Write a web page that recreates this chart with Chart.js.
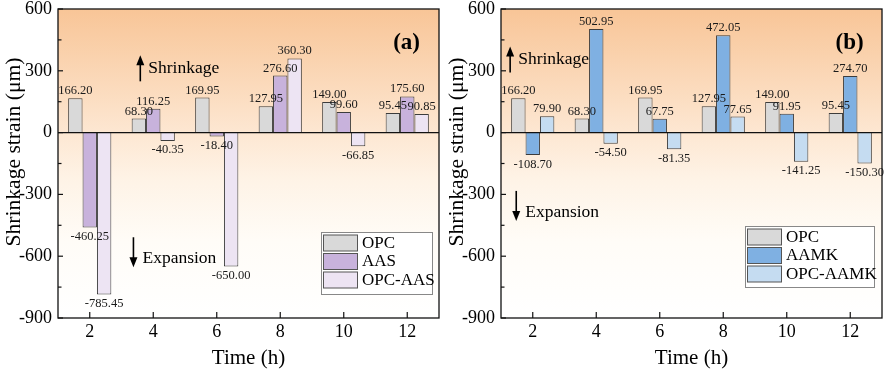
<!DOCTYPE html>
<html><head><meta charset="utf-8">
<script src="https://cdn.jsdelivr.net/npm/chart.js@4"></script>
<style>
html,body{margin:0;padding:0;background:#fff;width:886px;height:371px;overflow:hidden}
canvas{position:absolute;top:0}
#ca{left:0}#cb{left:443px}
</style></head><body>
<canvas id="ca" width="443" height="371"></canvas>
<canvas id="cb" width="443" height="371"></canvas>
<script>
// ---- data ----
const timeLabels = ['2','4','6','8','10','12'];
const yTickValues = [600, 300, 0, -300, -600, -900];
const opc     = [166.20, 68.30, 169.95, 127.95, 149.00, 95.45];
const aas     = [-460.25, 116.25, -18.40, 276.60, 99.60, 175.60];
const opcAas  = [-785.45, -40.35, -650.00, 360.30, -66.85, 90.85];
const aamk    = [-108.70, 502.95, 67.75, 472.05, 91.95, 274.70];
const opcAamk = [79.90, -54.50, -81.35, 77.65, -141.25, -150.30];

const SERIF = '"Liberation Serif","DejaVu Serif",serif';
const YMIN = -900, YMAX = 600;

function decor(opts){
  return {
    id:'decor',
    beforeDraw(chart){
      const {ctx, chartArea:a} = chart;
      const g = ctx.createLinearGradient(0,a.top,0,a.bottom);
      g.addColorStop(0,'#f8c597');
      g.addColorStop(0.40,'#fde7d2');
      g.addColorStop(0.55,'#fef3e6');
      g.addColorStop(0.75,'#fffcf7');
      g.addColorStop(1,'#ffffff');
      ctx.save(); ctx.fillStyle=g; ctx.fillRect(a.left,a.top,a.right-a.left,a.bottom-a.top); ctx.restore();
    },
    afterDatasetsDraw(chart){
      const {ctx, chartArea:a, scales} = chart;
      const ys = scales.y, xs = scales.x;
      ctx.save();
      // zero line
      const y0 = ys.getPixelForValue(0);
      ctx.strokeStyle='#111'; ctx.lineWidth=1.2;
      ctx.beginPath(); ctx.moveTo(a.left,y0); ctx.lineTo(a.right,y0); ctx.stroke();
      // data labels
      ctx.font = '12.5px '+SERIF; ctx.fillStyle='#1a1a1a'; ctx.textAlign='center';
      chart.data.datasets.forEach((ds,i)=>{
        chart.getDatasetMeta(i).data.forEach((el,j)=>{
          const v = ds.data[j];
          const t = v.toFixed(2);
          if (v>=0){ ctx.textBaseline='bottom'; ctx.fillText(t, el.x, el.y-1); }
          else { ctx.textBaseline='top'; ctx.fillText(t, el.x, el.y+3); }
        });
      });
      // box
      ctx.strokeStyle='#111'; ctx.lineWidth=1.3;
      ctx.strokeRect(a.left,a.top,a.right-a.left,a.bottom-a.top);
      // y ticks (inward), major + minor
      ctx.lineWidth=1.2;
      for(let v=YMIN; v<=YMAX; v+=150){
        const p = ys.getPixelForValue(v);
        const len = (v%300===0)?5:3.5;
        ctx.beginPath(); ctx.moveTo(a.left,p); ctx.lineTo(a.left+len,p); ctx.stroke();
      }
      // x ticks (inward)
      timeLabels.forEach((l,i)=>{
        const p = xs.getPixelForValue(i);
        ctx.beginPath(); ctx.moveTo(p,a.bottom); ctx.lineTo(p,a.bottom-6); ctx.stroke();
      });
      // panel label
      ctx.fillStyle='#000'; ctx.font='bold 23px '+SERIF; ctx.textAlign='center'; ctx.textBaseline='middle';
      ctx.fillText(opts.panel, a.left + (a.right-a.left)*opts.panelX, ys.getPixelForValue(opts.panelY));
      // arrows
      function arrow(x, y1, y2){ // from y1 to y2 (head at y2)
        ctx.strokeStyle='#000'; ctx.fillStyle='#000'; ctx.lineWidth=1.6;
        const dir = Math.sign(y2-y1);
        ctx.beginPath(); ctx.moveTo(x,y1); ctx.lineTo(x,y2-dir*8); ctx.stroke();
        ctx.beginPath(); ctx.moveTo(x,y2); ctx.lineTo(x-4,y2-dir*10); ctx.lineTo(x+4,y2-dir*10); ctx.closePath(); ctx.fill();
      }
      ctx.font='17.5px '+SERIF; ctx.textAlign='left'; ctx.textBaseline='middle';
      let sx = a.left + (a.right-a.left)*opts.shrinkX, sy = ys.getPixelForValue(opts.shrinkY);
      arrow(sx, sy+13, sy-13);
      ctx.fillText('Shrinkage', sx+8, sy);
      let ex = a.left + (a.right-a.left)*opts.expX, ey = ys.getPixelForValue(opts.expY);
      arrow(ex, ey-21, ey+9);
      ctx.fillText('Expansion', ex+9, ey);
      // legend box
      const L = opts.legend;
      ctx.fillStyle='#fff'; ctx.fillRect(L.x,L.y,L.w,L.h);
      ctx.strokeStyle='#888'; ctx.lineWidth=1; ctx.strokeRect(L.x+0.5,L.y+0.5,L.w,L.h);
      ctx.font='17px '+SERIF; ctx.textBaseline='middle';
      chart.data.datasets.forEach((ds,i)=>{
        const ry = L.y+3+i*18.5;
        ctx.fillStyle=ds.backgroundColor; ctx.fillRect(L.x+2.5,ry,34,16);
        ctx.strokeStyle='#555'; ctx.strokeRect(L.x+2.5,ry,34,16);
        ctx.fillStyle='#000'; ctx.fillText(ds.label, L.x+41, ry+8.5);
      });
      // axis titles
      ctx.font='21px '+SERIF; ctx.textAlign='center';
      ctx.fillText('Time (h)', (a.left+a.right)/2, 358);
      const title = 'Shrinkage strain (\u03bcm)';
      ctx.save(); ctx.translate(14,152); ctx.rotate(-Math.PI/2);
      const w = ctx.measureText(title).width;
      ctx.scale(189/w, 1);
      ctx.fillText(title,0,0); ctx.restore();
      ctx.restore();
    }
  };
}

function makeChart(id, series, opts){
  const datasets = series.map(s=>({
    label:s.label, data:s.data, backgroundColor:s.color,
    borderColor:'#3c3c3c', borderWidth:1, borderSkipped:'start',
    categoryPercentage:0.68, barPercentage:1.0
  }));
  return new Chart(document.getElementById(id), {
    type:'bar',
    data:{labels:timeLabels, datasets},
    options:{
      responsive:false, animation:false, devicePixelRatio:1,
      layout:{padding:{left:0,right:4,top:9,bottom:0}},
      plugins:{legend:{display:false}, tooltip:{enabled:false}},
      scales:{
        x:{offset:true, grid:{display:false, drawTicks:false}, border:{display:false},
           ticks:{color:'#000', font:{family:SERIF,size:18}, padding:3},
           afterFit(s){ s.height = 53; s.paddingLeft = 0; s.paddingRight = 0; }},
        y:{min:YMIN, max:YMAX, grid:{display:false, drawTicks:false}, border:{display:false},
           afterBuildTicks(s){ s.ticks = yTickValues.map(v=>({value:v})); },
           ticks:{color:'#000', font:{family:SERIF,size:18}, padding:6, callback:v=>String(v)},
           afterFit(s){ s.width = 58; s.paddingTop = 0; s.paddingBottom = 0; }}
      }
    },
    plugins:[decor(opts)]
  });
}

makeChart('ca', [
  {label:'OPC', data:opc, color:'#d9d9d9'},
  {label:'AAS', data:aas, color:'#c8b2dc'},
  {label:'OPC-AAS', data:opcAas, color:'#ede4f3'}
], {panel:'(a)', panelX:0.915, panelY:434, shrinkX:0.216, shrinkY:312, expX:0.198, expY:-610,
    legend:{x:321,y:232,w:111,h:62}});

makeChart('cb', [
  {label:'OPC', data:opc, color:'#d9d9d9'},
  {label:'AAMK', data:aamk, color:'#7fb0e2'},
  {label:'OPC-AAMK', data:opcAamk, color:'#c5dcf1'}
], {panel:'(b)', panelX:0.915, panelY:434, shrinkX:0.024, shrinkY:355, expX:0.04, expY:-385,
    legend:{x:302,y:226,w:129,h:61}});
</script>
</body></html>
